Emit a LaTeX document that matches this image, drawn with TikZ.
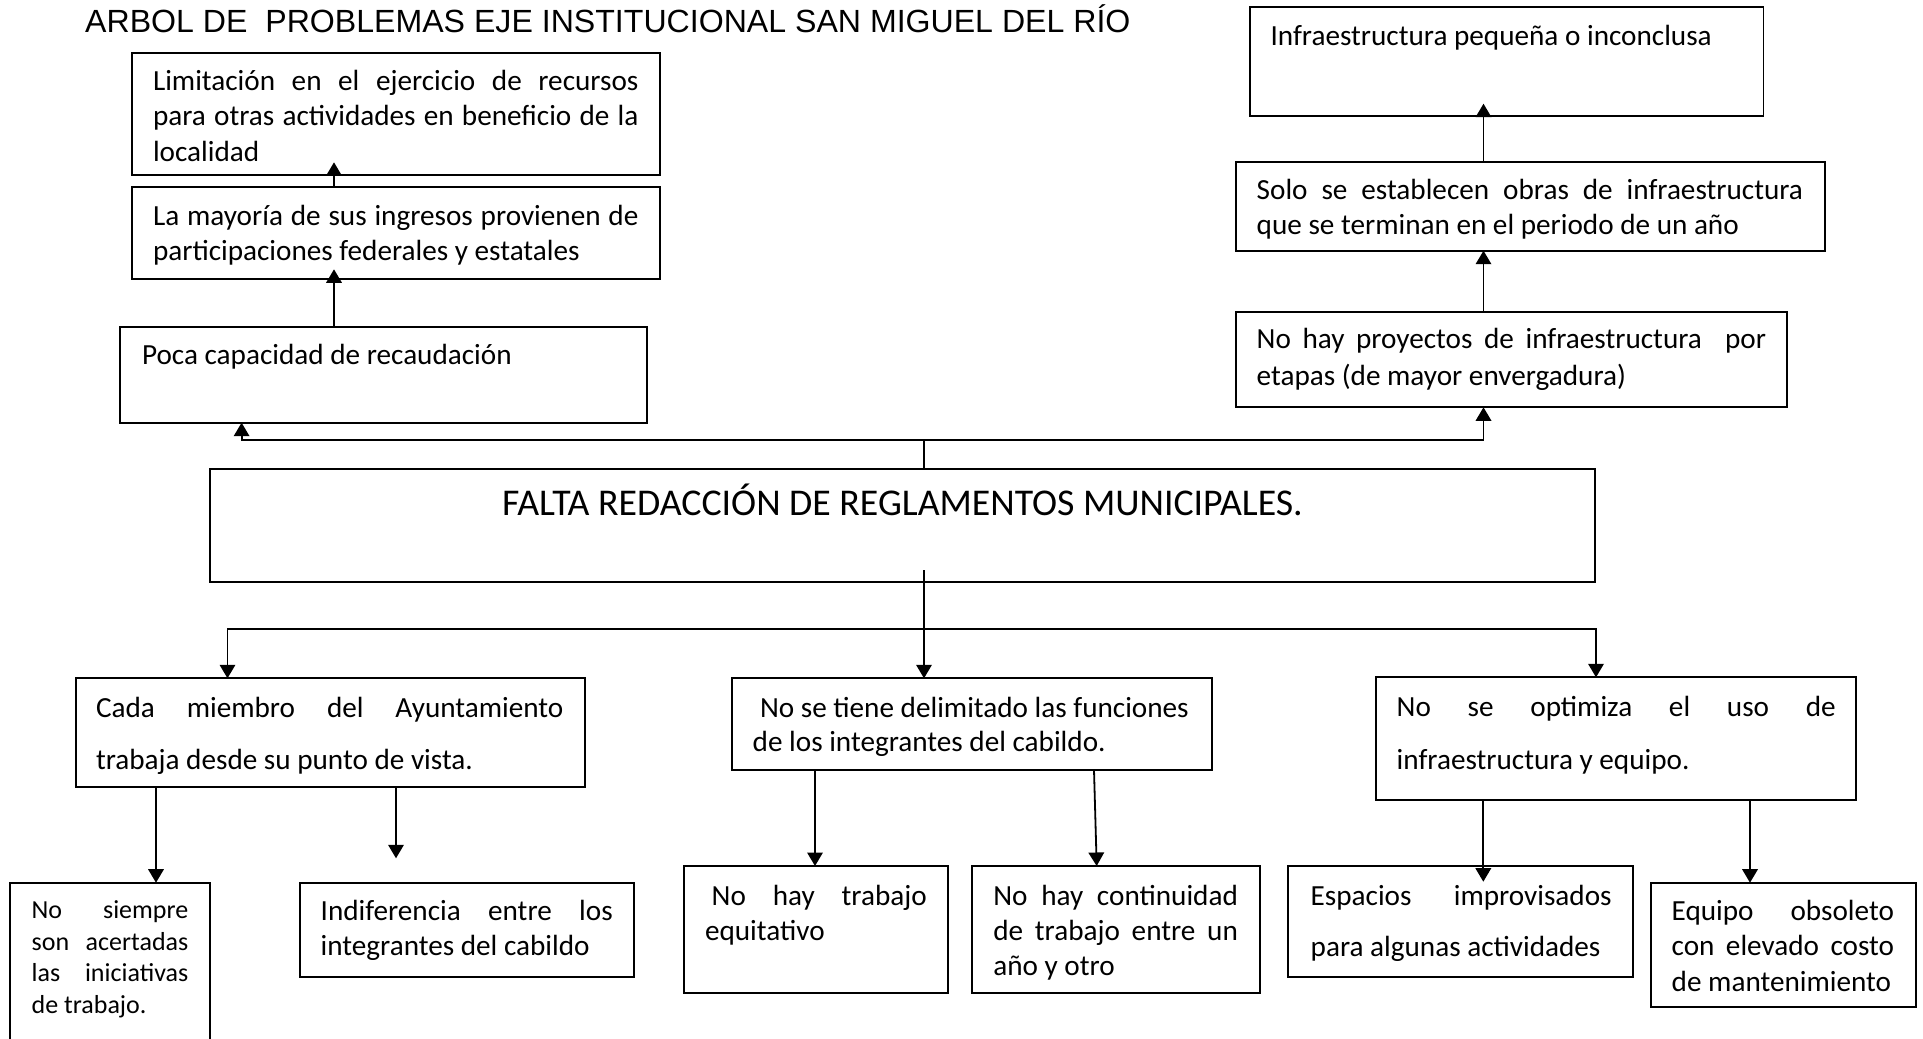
\documentclass[tikz,border=0pt]{standalone}
\usepackage{fontspec}
\setmainfont{Carlito}
\newfontfamily\titlefont{Liberation Sans}
\usetikzlibrary{arrows.meta,calc}
\begin{document}
\begin{tikzpicture}[x=1pt,y=-1pt,
  box/.style={draw,line width=1.8pt,inner sep=0pt,outer sep=0pt,anchor=north west},
  txt/.style={anchor=base west,inner sep=0pt,outer sep=0pt,align=justify,font=\fontsize{29.2}{35.6}\selectfont,execute at begin node={\hyphenpenalty=10000\exhyphenpenalty=10000}},
  txtw/.style={txt,font=\fontsize{29.2}{52.5}\selectfont},
  arr/.style={line width=1.8pt,-{Triangle[length=13.5pt,width=15.5pt]}},
  ln/.style={line width=1.8pt}]
\useasboundingbox[fill=white] (0,0) rectangle (1923,1039);

% title
\node[anchor=base west,inner sep=0pt,font=\titlefont\fontsize{32.1}{38}\selectfont] (title) at (85,32.7) {ARBOL DE\ \ PROBLEMAS EJE INSTITUCIONAL SAN MIGUEL DEL RÍO};

% boxes
\node[box,minimum width=528.1pt,minimum height=122pt] (lim) at (131.7,53) {};
\node[box,minimum width=528.1pt,minimum height=91.4pt] (may) at (131.7,187.3) {};
\node[box,minimum width=527.7pt,minimum height=96pt] (poca) at (119.6,326.7) {};
\node[box,minimum width=513.6pt,minimum height=109pt] (infra) at (1249.8,6.7) {};
\node[box,minimum width=588.7pt,minimum height=88.7pt] (solo) at (1236,162) {};
\node[box,minimum width=551pt,minimum height=95.6pt] (proy) at (1236,311.7) {};
\node[box,minimum width=1385.7pt,minimum height=112.4pt] (falta) at (209.6,469.3) {};
\node[box,minimum width=508.8pt,minimum height=108.4pt] (cada) at (76,678.3) {};
\node[box,minimum width=480pt,minimum height=91.7pt] (tiene) at (731.7,678.3) {};
\node[box,minimum width=480pt,minimum height=122.7pt] (optim) at (1376,677.3) {};
\node[box,minimum width=200pt,minimum height=180pt] (siempre) at (10,882.7) {};
\node[box,minimum width=334pt,minimum height=94.6pt] (indif) at (300,882.7) {};
\node[box,minimum width=264.3pt,minimum height=126.7pt] (trab) at (684,866) {};
\node[box,minimum width=288.5pt,minimum height=126.7pt] (cont) at (971.7,866) {};
\node[box,minimum width=344.4pt,minimum height=111.3pt] (esp) at (1288.3,866) {};
\node[box,minimum width=264.9pt,minimum height=124pt] (equ) at (1650.7,882.7) {};

% texts
\node[txt,text width=485.4pt,font=\fontsize{29.2}{35.8}\selectfont] (tlim) at (153,90) {Limitación en el ejercicio de recursos\linebreak para otras actividades en beneficio de la\linebreak localidad};
\node[txt,text width=485.4pt] (tmay) at (153,225) {La mayoría de sus ingresos provienen de\linebreak participaciones federales y estatales};
\node[txt,align=left] (tpoca) at (142,364.3) {Poca capacidad de recaudación};
\node[txt,align=left] (tinfra) at (1270.5,45) {Infraestructura pequeña o inconclusa};
\node[txt,text width=546.3pt] (tsolo) at (1256.7,199.3) {Solo se establecen obras de infraestructura\linebreak que se terminan en el periodo de un año};
\node[txt,text width=509.3pt,font=\fontsize{29.2}{36.7}\selectfont] (tproy) at (1256.7,348.3) {No hay proyectos de infraestructura\ \ por\linebreak etapas (de mayor envergadura)};
\node[anchor=base,inner sep=0pt,font=\fontsize{37.8}{44}\selectfont] (tfalta) at (902.4,515) {FALTA REDACCIÓN DE REGLAMENTOS MUNICIPALES.};
\node[txtw,text width=467.4pt,font=\fontsize{29.2}{52}\selectfont] (tcada) at (96,717.3) {Cada miembro del Ayuntamiento\linebreak trabaja desde su punto de vista.};
\node[txt,text width=540pt,font=\fontsize{29.2}{34.4}\selectfont] (ttiene) at (752.7,717.3) {\hspace*{7.3pt}No se tiene delimitado las funciones\par de los integrantes del cabildo.};
\node[txtw,text width=439pt,font=\fontsize{29.2}{53.3}\selectfont] (toptim) at (1396.7,716) {No se optimiza el uso de\linebreak infraestructura y equipo.};
\node[txt,text width=156.6pt,font=\fontsize{26}{31.7}\selectfont] (tsiempre) at (31.7,918.3) {No siempre\linebreak son acertadas\linebreak las iniciativas\linebreak de trabajo.};
\node[txt,text width=292pt,font=\fontsize{29.2}{35}\selectfont] (tindif) at (320.7,920) {Indiferencia entre los\linebreak integrantes del cabildo};
\node[txt,text width=221.7pt,font=\fontsize{29.2}{35}\selectfont] (ttrab) at (705,905) {\hspace*{6.7pt}No hay trabajo\linebreak equitativo};
\node[txt,text width=244.6pt,font=\fontsize{29.2}{35}\selectfont] (tcont) at (993.3,905) {No hay continuidad\linebreak de trabajo entre un\linebreak año y otro};
\node[txtw,text width=301pt,font=\fontsize{29.2}{51.7}\selectfont] (tesp) at (1310.7,905) {Espacios improvisados\linebreak para algunas actividades};
\node[txt,text width=222.3pt,font=\fontsize{29.2}{35.9}\selectfont] (tequ) at (1671.7,920) {Equipo obsoleto\linebreak con elevado costo\linebreak de mantenimiento};

% connector coordinates
\coordinate (lx) at (334,0);
\coordinate (rx) at (1483.5,0);
\coordinate (pl) at (241.6,0);
\coordinate (jt) at (924,440);
\coordinate (jb) at (924,629);
\coordinate (dl) at (227.5,0);
\coordinate (dr) at (1596,0);
\coordinate (c1) at (156,0);
\coordinate (c2) at (396,0);
\coordinate (t1) at (815,0);
\coordinate (o1) at (1483.3,0);
\coordinate (o2) at (1750,0);

% upper connectors
\draw[ln] (falta.north -| jt) -- (jt);
\draw[arr] (jt) -| (poca.south -| pl);
\draw[arr] (jt) -| (proy.south -| rx);
\draw[arr,shorten >=-9.4pt] (poca.north -| lx) -- (may.south -| lx);
\draw[arr,shorten >=-12.7pt] (may.north -| lx) -- (lim.south -| lx);
\draw[arr] (proy.north -| rx) -- (solo.south -| rx);
\draw[arr,shorten >=-12pt] (solo.north -| rx) -- (infra.south -| rx);

% lower connectors
\draw[ln] ($(falta.south -| jb)+(0,-11.7)$) -- (jb);
\draw[arr] (jb) -| (cada.north -| dl);
\draw[arr] (jb) -- (tiene.north -| jb);
\draw[arr] (jb) -| (optim.north -| dr);
\draw[arr] (cada.south -| c1) -- (siempre.north -| c1);
\draw[arr,shorten >=24.4pt] (cada.south -| c2) -- (indif.north -| c2);
\draw[arr] (tiene.south -| t1) -- (trab.north -| t1);
\draw[arr] ($(tiene.south west)+(362.3,0)$) -- ($(cont.north west)+(125,0)$);
\draw[arr,shorten >=-15.7pt] (optim.south -| o1) -- (esp.north -| o1);
\draw[arr] (optim.south -| o2) -- (equ.north -| o2);
\end{tikzpicture}
\end{document}
